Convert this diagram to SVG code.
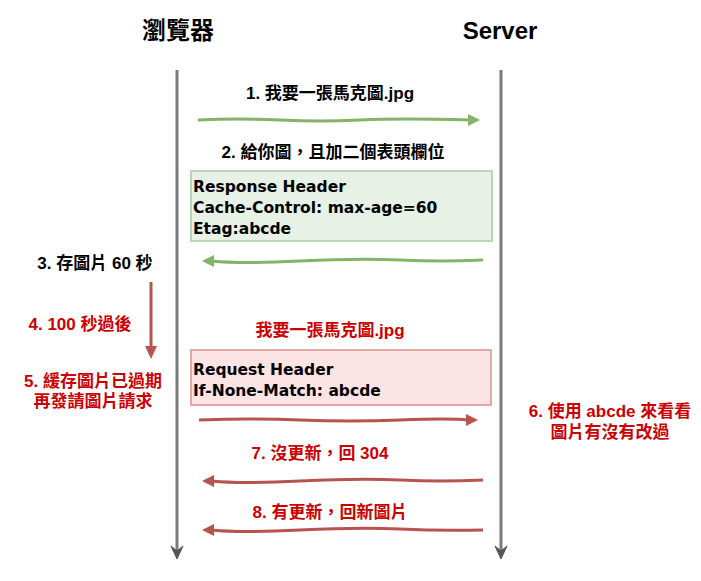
<svg xmlns="http://www.w3.org/2000/svg" width="701" height="581" viewBox="0 0 701 581">
<style>
.t{font-family:"Liberation Sans","Noto Sans CJK TC",sans-serif;font-weight:bold;text-anchor:middle}
.k{fill:#000;font-size:17px}
.r{fill:#cc0000;font-size:17px}
.h{fill:#000;font-size:24px}
.m{font-family:"DejaVu Sans","Liberation Sans",sans-serif;font-size:15.5px;font-weight:bold;fill:#000}
.life{stroke:#7a7a7a;stroke-width:3;fill:none}
.g{stroke:#82b366;stroke-width:3;fill:none}
.rd{stroke:#b85450;stroke-width:3;fill:none}
</style>
<rect width="701" height="581" fill="#fff"/>
<g id="browser">
<text class="t h" x="178" y="39">瀏覽器</text>
</g>
<g id="server">
<text class="t h" x="500" y="39">Server</text>
</g>
<g id="response-box">
<rect x="191" y="171" width="301" height="70" fill="#e7f1e5" stroke="#b9d7b1" stroke-width="2"/>
<text class="m" x="193" y="192">Response Header</text>
<text class="m" x="193" y="213">Cache-Control: max-age=60</text>
<text class="m" x="193" y="234">Etag:abcde</text>
</g>
<g id="request-box">
<rect x="191" y="350" width="300" height="55" fill="#fbe4e3" stroke="#e2a9a7" stroke-width="2"/>
<text class="m" x="193" y="375">Request Header</text>
<text class="m" x="193" y="396">If-None-Match: abcde</text>
</g>
<g id="labels">
<text class="t k" x="330" y="99">1. 我要一張馬克圖.jpg</text>
<text class="t k" x="333" y="158">2. 給你圖，且加二個表頭欄位</text>
<text class="t k" x="95" y="269">3. 存圖片 60 秒</text>
<text class="t r" x="80" y="330">4. 100 秒過後</text>
<text class="t r" x="93" y="387">5. 緩存圖片已過期</text>
<text class="t r" x="93" y="407">再發請圖片請求</text>
<text class="t r" x="330" y="336">我要一張馬克圖.jpg</text>
<text class="t r" x="610" y="417">6. 使用 abcde 來看看</text>
<text class="t r" x="610" y="438">圖片有沒有改過</text>
<text class="t r" x="320" y="459">7. 沒更新，回 304</text>
<text class="t r" x="330" y="518">8. 有更新，回新圖片</text>
</g>
<g id="connectors">
<path class="life" d="M177 70 V552"/>
<path d="M171 546 L177 559 L183 546 L177 551 Z" fill="#555" stroke="#555" stroke-width="1"/>
<path class="life" d="M501 70 V552"/>
<path d="M495 546 L501 559 L507 546 L501 551 Z" fill="#555" stroke="#555" stroke-width="1"/>
<path class="g" d="M198 120 Q240 118 280 120 T360 120 T470 120"/>
<path d="M468 114 L480 120 L468 126 Z" fill="#82b366"/>
<path class="g" d="M483 260 Q440 262 400 260 T300 261 T212 261"/>
<path d="M214 255 L202 261 L214 267 Z" fill="#82b366"/>
<path class="rd" d="M151 282 V348"/>
<path d="M145 346 L151 359 L157 346 Z" fill="#b85450"/>
<path class="rd" d="M199 420 Q250 418 300 420 T400 420 T468 420"/>
<path d="M466 414 L478 420 L466 426 Z" fill="#b85450"/>
<path class="rd" d="M483 480 Q440 482 400 480 T300 481 T212 481"/>
<path d="M214 475 L202 481 L214 487 Z" fill="#b85450"/>
<path class="rd" d="M483 530 Q440 531 400 529 T300 530 T212 530"/>
<path d="M214 524 L202 530 L214 536 Z" fill="#b85450"/>
</g>
</svg>
